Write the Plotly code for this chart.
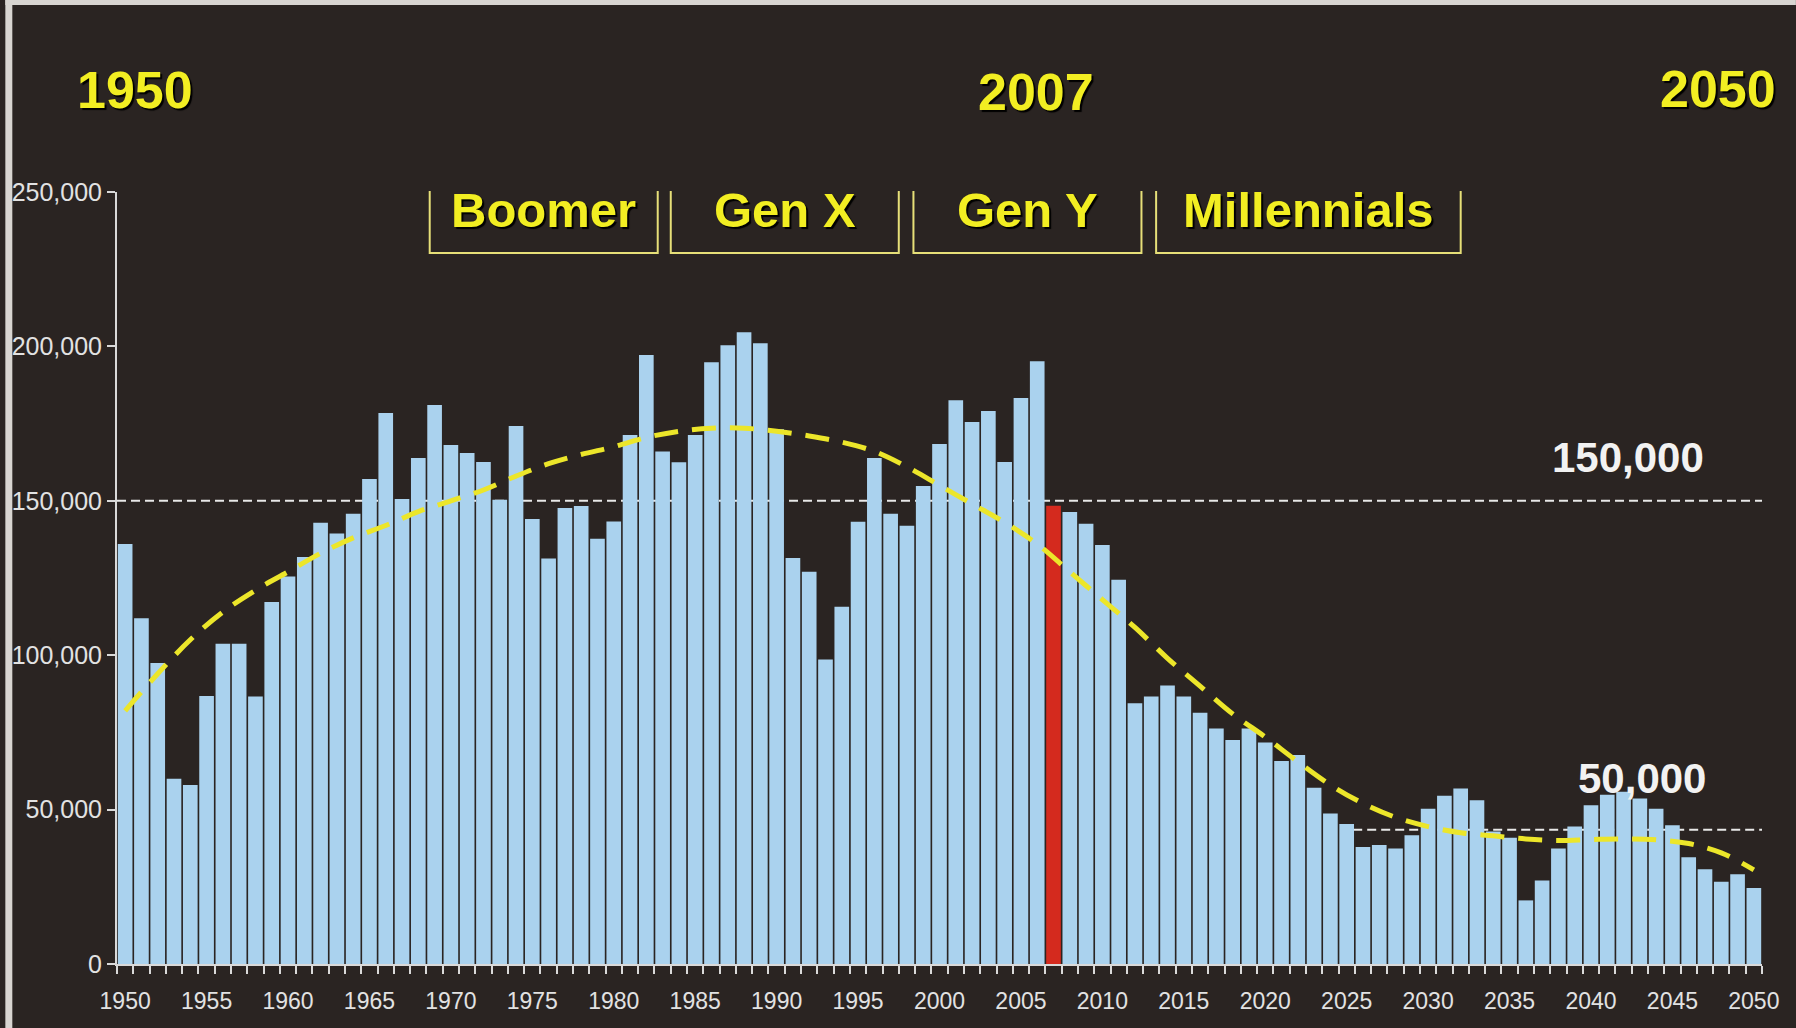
import plotly.graph_objects as go

# ---------------- data ----------------
years = list(range(1950, 2051))
births = [
    136000, 112000, 97500, 60000, 58000, 86800, 103700, 103700, 86600, 117200,   # 1950-59
    125500, 131800, 142900, 139400, 145800, 157100, 178400, 150600, 163900, 181000,  # 1960-69
    168100, 165500, 162600, 150300, 174200, 144100, 131300, 147700, 148300, 137700,  # 1970-79
    143300, 171300, 197200, 166000, 162500, 171300, 194900, 200400, 204600, 201000,  # 1980-89
    173200, 131500, 127000, 98600, 115700, 143200, 163900, 145800, 141900, 154800,   # 1990-99
    168400, 182600, 175500, 179100, 162600, 183300, 195200, 148400, 146400, 142600,  # 2000-09
    135700, 124400, 84400, 86600, 90200, 86600, 81400, 76300, 72500, 76300,          # 2010-19
    71700, 65700, 67700, 57100, 48700, 45300, 37900, 38500, 37400, 41700,            # 2020-29
    50300, 54500, 56800, 53000, 42900, 40900, 20600, 27000, 37400, 44500,            # 2030-39
    51400, 54800, 55800, 53600, 50300, 44900, 34600, 30700, 26600, 29100,            # 2040-49
    24600,                                                                           # 2050
]
highlight_year = 2007

trend_years = list(range(1950, 2051, 2))
trend_vals = [
    82000, 94000, 105000, 114000, 121000, 127000,
    133000, 138000, 142000, 146500, 150000,
    153500, 158000, 162000, 165000, 167500,
    170500, 172500, 173500, 173500, 172500,
    171000, 169000, 166000, 161000, 155000,
    149000, 143000, 136000, 127000, 118000,
    109000, 99000, 90000, 81000, 73500,
    65500, 58000, 52000, 47500, 44500,
    42500, 41500, 40500, 40000, 40300,
    40500, 40200, 39000, 36000, 30500,
]

ref_levels = [150000, 43500]
ref_labels = ["150,000", "50,000"]
ref_starts = [1949.5, 2025.4]

gen_names = ["Boomer", "Gen X", "Gen Y", "Millennials"]
gen_starts = [1968.7, 1983.5, 1998.4, 2013.3]
gen_ends = [1982.7, 1997.5, 2012.4, 2032.0]

top_years = ["1950", "2007", "2050"]

y_ticks = [0, 50000, 100000, 150000, 200000, 250000]
x_label_years = list(range(1950, 2051, 5))

# ---------------- styles ----------------
BG = "#2a2422"
BAR = "#aad2ee"
RED = "#d42a1e"
YEL = "#f2ee22"
BOX = "#e6df78"
AXC = "#d9d9d9"
FONT = "Liberation Sans, Arial, sans-serif"

bar_colors = [RED if y == highlight_year else BAR for y in years]

fig = go.Figure()

fig.add_trace(go.Bar(
    x=years, y=births, width=0.9,
    marker=dict(color=bar_colors, line=dict(width=0)),
    hoverinfo="x+y", showlegend=False,
))

fig.add_trace(go.Scatter(
    x=trend_years, y=trend_vals, mode="lines",
    line=dict(color="#ece62a", width=5, dash="24px,14px", shape="spline", smoothing=1.0),
    hoverinfo="skip", showlegend=False,
))

shapes = []
L, R, T, B = 112, 1762, 192, 964
W, H = R - L, B - T
def px(X):
    return (X - L) / W
def py(Y):
    return (B - Y) / H

# scan edge strips (outside plot area)
shapes.append(dict(type="rect", xref="paper", yref="paper",
                   x0=px(0), x1=px(7), y0=py(1028), y1=py(0),
                   fillcolor="#d8d5d1", line=dict(width=0), layer="below"))
shapes.append(dict(type="rect", xref="paper", yref="paper",
                   x0=px(0), x1=px(1796), y0=py(5), y1=py(0),
                   fillcolor="#d8d5d1", line=dict(width=0), layer="below"))

# reference dashed lines (behind bars)
for lvl, x0 in zip(ref_levels, ref_starts):
    shapes.append(dict(type="line", xref="x", yref="y",
                       x0=x0, x1=2050.5, y0=lvl, y1=lvl,
                       line=dict(color="#e8e8e8", width=2, dash="9px,5px"),
                       layer="below"))

# generation brackets
box_top = py(191)
box_bot = py(253)
annotations = []
for name, s, e in zip(gen_names, gen_starts, gen_ends):
    shapes.append(dict(type="path", xref="x", yref="paper",
                       path=f"M {s},{box_top} L {s},{box_bot} L {e},{box_bot} L {e},{box_top}",
                       line=dict(color=BOX, width=2)))
    annotations.append(dict(x=(s + e) / 2, y=py(210), xref="x", yref="paper",
                            text=f"<b>{name}</b>", showarrow=False,
                            xanchor="center", yanchor="middle",
                            font=dict(family=FONT, size=49, color=YEL,
                                      shadow="2px 2px 1px #000")))

# top year labels
top_pos = [(130, 90), (1034, 92), (1718, 89)]
for t, (X, Y) in zip(top_years, top_pos):
    annotations.append(dict(x=px(X), y=py(Y), xref="paper", yref="paper",
                            text=f"<b>{t}</b>", showarrow=False,
                            xanchor="center", yanchor="middle",
                            font=dict(family=FONT, size=52, color=YEL,
                                      shadow="2px 2px 1px #000")))

# reference labels
ref_label_pos = [(1628, 457), (1642, 778)]
for lab, (X, Y) in zip(ref_labels, ref_label_pos):
    annotations.append(dict(x=px(X), y=py(Y), xref="paper", yref="paper",
                            text=f"<b>{lab}</b>", showarrow=False,
                            xanchor="center", yanchor="middle",
                            font=dict(family=FONT, size=42, color="#f2f2f2")))

fig.update_layout(
    width=1796, height=1028, autosize=False,
    margin=dict(l=L, r=1796 - R, t=T, b=1028 - B, pad=0),
    paper_bgcolor=BG, plot_bgcolor=BG,
    shapes=shapes, annotations=annotations,
    bargap=0.1,
    xaxis=dict(
        range=[1949.5, 2050.5], showgrid=False, zeroline=False,
        showline=True, linecolor=AXC, linewidth=2,
        tickmode="array", tickvals=x_label_years,
        ticktext=[str(v) for v in x_label_years],
        ticks="outside", ticklen=8, tickcolor="rgba(0,0,0,0)",
        ticklabelstandoff=7,
        tickfont=dict(family=FONT, size=23, color="#e2e2e2"),
        minor=dict(tickmode="array", tickvals=[y - 0.5 for y in years] + [2050.5],
                   ticks="outside", ticklen=8, tickcolor=AXC, tickwidth=1.5,
                   showgrid=False),
        fixedrange=True,
    ),
    yaxis=dict(
        range=[0, 250000], showgrid=False, zeroline=False,
        showline=True, linecolor=AXC, linewidth=2,
        tickmode="array", tickvals=y_ticks, tickformat=",",
        ticks="outside", ticklen=8, tickcolor=AXC, tickwidth=1.5,
        tickfont=dict(family=FONT, size=25, color="#e2e2e2"),
        fixedrange=True,
    ),
)

fig.write_html(
    "out.html",
    config={"displayModeBar": False},
    post_script="document.body.style.margin='0';document.body.style.overflow='hidden';",
)
